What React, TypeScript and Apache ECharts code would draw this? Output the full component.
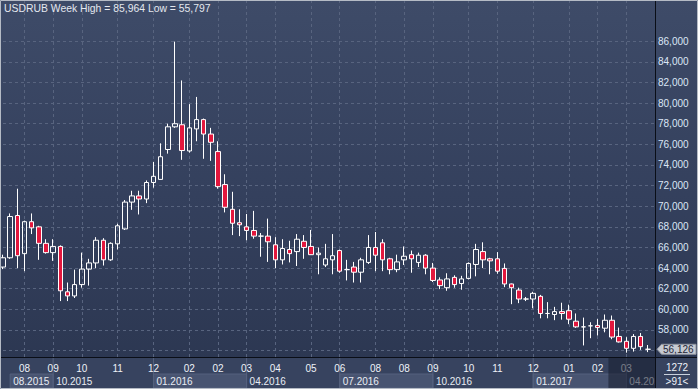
import React, { useEffect, useRef } from "react";
import * as echarts from "echarts";

const weekCount = 92;
const tickIndex = [3, 7, 11, 16, 21, 26, 30, 34, 38, 43, 47, 52, 56, 60, 65, 69, 74, 79, 83, 87];
const tickLabels = ["08", "09", "10", "11", "12", "02", "02", "03", "04", "05", "06", "08", "08", "09", "10", "11", "12", "01", "02", "03"];
const periodStart = [1, 7, 21, 34, 47, 60, 74, 87];
const periodLabels = ["08.2015", "10.2015", "01.2016", "04.2016", "07.2016", "10.2016", "01.2017", "04.2017"];

const opens = [
  64.1, 65.0, 69.1, 65.4, 68.5, 68.0, 66.4, 65.5, 66.1, 61.7,
  61.3, 62.4, 63.9, 64.5, 66.7, 64.8, 66.35, 67.8, 70.4, 71.0,
  70.7, 72.3, 72.6, 75.5, 77.7, 77.9, 75.36, 77.5, 78.4, 77.0,
  75.3, 72.1, 69.7, 68.4, 68.0, 67.65, 67.1, 67.1, 66.26, 64.8,
  65.8, 65.6, 66.6, 66.1, 65.3, 64.3, 64.8, 65.7, 63.85, 64.1,
  63.6, 64.55, 66.0, 66.45, 64.9, 63.85, 64.8, 65.3, 64.55, 65.25,
  64.0, 62.85, 62.1, 63.1, 62.5, 63.0, 64.35, 65.6, 64.9, 64.9,
  63.97, 62.46, 61.87, 61.0, 61.0, 61.26, 59.6, 59.5, 59.78, 59.87,
  58.85, 58.3, 58.4, 58.44, 58.17, 58.94, 57.37, 56.9, 56.22, 57.37, 56.13,
];
const closes = [
  65.0, 69.0, 65.2, 68.5, 67.9, 66.4, 65.5, 66.1, 61.8, 61.3,
  62.4, 63.9, 64.5, 66.7, 64.8, 66.4, 68.1, 70.4, 71.0, 70.7,
  72.3, 72.9, 74.8, 77.7, 78.0, 75.4, 77.6, 78.4, 77.0, 76.2,
  71.9, 69.9, 68.35, 68.2, 67.65, 67.1, 67.1, 66.55, 64.8, 65.9,
  65.4, 66.8, 66.0, 65.3, 65.45, 64.9, 65.2, 63.7, 63.85, 63.6,
  64.8, 66.0, 65.25, 64.8, 63.85, 64.6, 65.15, 64.9, 65.25, 64.0,
  62.8, 62.3, 62.95, 62.4, 62.95, 64.45, 65.8, 64.8, 64.7, 63.7,
  62.46, 62.1, 61.0, 61.0, 61.55, 59.6, 59.6, 59.78, 59.6, 59.04,
  58.3, 58.3, 58.4, 58.23, 58.94, 57.31, 56.84, 56.22, 57.37, 56.38, 56.126,
];
const lows = [
  63.9, 64.9, 64.0, 63.7, 67.3, 64.8, 65.4, 64.7, 60.8, 60.8,
  61.1, 62.1, 62.3, 64.0, 64.25, 64.7, 65.8, 67.7, 69.65, 69.2,
  70.3, 71.8, 72.6, 75.1, 77.6, 74.5, 75.2, 76.3, 74.6, 74.4,
  71.7, 69.4, 67.2, 67.1, 66.7, 66.85, 65.1, 64.6, 64.0, 64.35,
  64.55, 64.2, 64.9, 65.3, 63.4, 64.1, 63.4, 63.55, 62.8, 62.6,
  62.6, 64.4, 63.7, 63.7, 63.4, 63.6, 64.3, 63.55, 64.1, 63.4,
  62.65, 61.96, 61.8, 62.1, 61.9, 62.9, 63.2, 64.0, 63.4, 63.45,
  62.15, 60.5, 60.6, 60.8, 60.1, 59.13, 59.13, 58.95, 59.0, 58.56,
  58.2, 56.5, 57.2, 57.46, 57.77, 57.1, 56.78, 55.797, 55.9, 56.07, 55.85,
];
const highs = [
  65.3, 69.3, 71.7, 68.6, 69.3, 68.1, 66.8, 66.8, 66.2, 62.6,
  63.85, 65.5, 64.9, 67.0, 66.9, 66.5, 68.3, 70.6, 71.5, 71.5,
  72.5, 74.3, 76.1, 78.0, 85.964, 82.2, 79.9, 80.6, 78.5, 77.6,
  76.3, 73.1, 71.4, 69.7, 69.25, 69.55, 67.4, 68.8, 67.0, 66.8,
  66.65, 67.3, 67.2, 67.7, 66.0, 66.35, 67.3, 65.8, 64.8, 64.6,
  65.0, 67.2, 67.5, 66.8, 65.0, 65.3, 66.1, 65.7, 65.5, 65.35,
  64.5, 63.1, 63.5, 63.3, 63.25, 64.55, 66.35, 66.5, 65.0, 65.55,
  64.45, 62.5, 62.1, 61.2, 61.7, 61.4, 60.7, 60.24, 60.64, 60.45,
  59.6, 59.2, 58.75, 59.05, 59.5, 59.4, 58.23, 57.3, 57.6, 57.7, 56.54,
];

const titleText = "USDRUB Week High = 85,964 Low = 55,797";
const infoTop = "1272";
const infoBottom = ">91<";

const FONT = "'Liberation Sans', Arial, sans-serif";
const categories = Array.from({ length: weekCount }, (_, i) => `w${i}`);
const labelFor = (i: number) => {
  const k = tickIndex.indexOf(i);
  return k >= 0 ? tickLabels[k] : "";
};
const fmt = (v: number) => Math.round(v * 1000).toLocaleString("en-US");

export default function App() {
  const ref = useRef<HTMLDivElement>(null);
  useEffect(() => {
    const chart = echarts.init(ref.current!, null, { renderer: "svg" });
    const dash = "#58647f";
    const splitColors = Array.from({ length: 19 }, (_, k) => (k >= 17 ? "rgba(0,0,0,0)" : dash));
    chart.setOption({
      animation: false,
      backgroundColor: "transparent",
      title: {
        text: titleText,
        left: 4,
        top: 3,
        padding: 0,
        textStyle: { color: "#e4e8ef", fontSize: 10.4, fontWeight: "normal", fontFamily: FONT },
      },
      grid: { left: 2, right: 43, top: -18.3, bottom: 17.8 },
      xAxis: [
        {
          type: "category",
          data: categories,
          boundaryGap: false,
          axisLine: { show: false },
          axisTick: { show: false },
          axisLabel: { show: false },
          splitLine: {
            show: true,
            interval: (i: number) => tickIndex.indexOf(i) >= 0,
            lineStyle: { color: dash, type: [3, 3], width: 1 },
          },
        },
        {
          type: "category",
          data: categories,
          boundaryGap: false,
          position: "bottom",
          offset: -9.5,
          z: 20,
          axisLine: { show: false },
          axisTick: { show: false },
          splitLine: { show: false },
          axisLabel: {
            interval: 0,
            margin: 2,
            color: "#eef2f8",
            fontSize: 10,
            fontFamily: FONT,
            formatter: (_v: string, i: number) => labelFor(i),
          },
        },
      ],
      yAxis: {
        type: "value",
        position: "right",
        min: 54,
        max: 90,
        interval: 2,
        axisLine: { show: false },
        axisTick: { show: false },
        axisLabel: {
          margin: 3,
          color: "#dbe6f6",
          fontSize: 10,
          fontFamily: FONT,
          formatter: (v: number) => (v >= 58 && v <= 86 ? fmt(v) : ""),
        },
        splitLine: { show: true, lineStyle: { color: splitColors, type: [3, 3], width: 1 } },
      },
      series: [
        {
          type: "candlestick",
          xAxisIndex: 0,
          barWidth: 5,
          data: opens.map((o, i) => [o, closes[i], lows[i], highs[i]]),
          itemStyle: {
            color: "rgba(0,0,0,0)",
            color0: "#e3173d",
            borderColor: "#ffffff",
            borderColor0: "#ffffff",
            borderWidth: 1,
          },
        },
      ],
    });

    const px = (i: number) => chart.convertToPixel({ xAxisIndex: 0 }, i) as unknown as number;
    const lastClose = closes[closes.length - 1];
    const py = chart.convertToPixel({ yAxisIndex: 0 }, lastClose) as unknown as number;
    const rightEdge = px(weekCount - 1);

    const els: any[] = [];
    els.push({ type: "rect", z: 10, shape: { x: 0, y: 357.5, width: 698, height: 32 }, style: { fill: "#37435f" } });
    periodStart.forEach((s, k) => {
      const x0 = px(s);
      const x1 = k < periodStart.length - 1 ? px(periodStart[k + 1]) : rightEdge;
      if (k % 2 === 0) {
        els.push({
          type: "rect",
          z: 11,
          shape: { x: x0, y: 374, width: x1 - x0, height: 14 },
          style: { fill: "#485471", stroke: "#54617e", lineWidth: 1 },
        });
      }
      if (k > 0) {
        els.push({
          type: "line",
          z: 11,
          shape: { x1: x0, y1: 358, x2: x0, y2: 389 },
          style: { stroke: "#55617d", lineWidth: 1 },
        });
      }
      els.push({
        type: "text",
        z: 12,
        x: x0 + 3,
        y: 381,
        style: { text: periodLabels[k], fill: "#e8edf4", fontSize: 10, fontFamily: FONT, verticalAlign: "middle" },
      });
    });
    const ovX = (px(84) + px(85)) / 2;
    els.push({
      type: "rect",
      z: 25,
      shape: { x: ovX, y: 358, width: rightEdge - ovX, height: 31 },
      style: { fill: "rgba(22,27,44,0.55)" },
    });
    els.push({ type: "rect", z: 26, shape: { x: 656, y: 358, width: 42, height: 31 }, style: { fill: "#37435f" } });
    els.push({
      type: "text", z: 27, x: 677, y: 367,
      style: { text: infoTop, fill: "#eef2f8", fontSize: 10, fontFamily: FONT, align: "center", verticalAlign: "middle" },
    });
    els.push({ type: "line", z: 27, shape: { x1: 664, y1: 374.5, x2: 690, y2: 374.5 }, style: { stroke: "#c9d1dd", lineWidth: 1 } });
    els.push({
      type: "text", z: 27, x: 677, y: 381,
      style: { text: infoBottom, fill: "#eef2f8", fontSize: 10, fontFamily: FONT, align: "center", verticalAlign: "middle" },
    });
    els.push({
      type: "polygon",
      z: 30,
      shape: { points: [[657, py], [661.5, py - 5], [696, py - 5], [696, py + 5], [661.5, py + 5]] },
      style: { fill: "#c6cad2", stroke: "#8d939f", lineWidth: 1 },
    });
    els.push({
      type: "text", z: 31, x: 663, y: py,
      style: { text: fmt(lastClose), fill: "#1e2538", fontSize: 10, fontFamily: FONT, verticalAlign: "middle" },
    });
    els.push({ type: "line", z: 35, shape: { x1: 655.5, y1: 0, x2: 655.5, y2: 389 }, style: { stroke: "#0a0e17", lineWidth: 1 } });
    els.push({ type: "line", z: 35, shape: { x1: 0, y1: 357.5, x2: 698, y2: 357.5 }, style: { stroke: "#0a0e17", lineWidth: 1 } });
    els.push({
      type: "rect", z: 40,
      shape: { x: 0.5, y: 0.5, width: 697, height: 388 },
      style: { fill: "none", stroke: "#b5bbc5", lineWidth: 1 },
    });
    chart.setOption({ graphic: els });

    return () => chart.dispose();
  }, []);
  return (
    <div
      style={{
        position: "fixed",
        left: 0,
        top: 0,
        width: 698,
        height: 389,
        background: "linear-gradient(180deg, #3e4b68 0%, #34405d 50%, #2b3650 100%)",
      }}
    >
      <div ref={ref} style={{ width: 698, height: 389 }} />
    </div>
  );
}
